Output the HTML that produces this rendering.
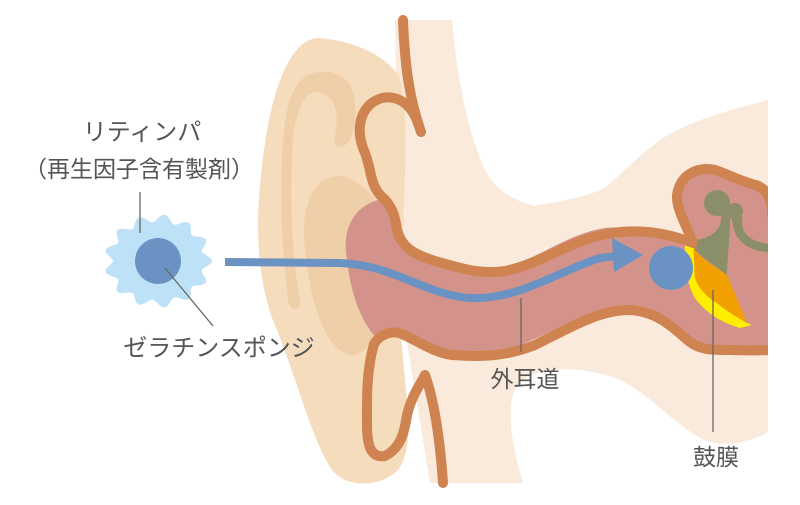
<!DOCTYPE html>
<html><head><meta charset="utf-8"><style>
html,body{margin:0;padding:0;background:#fff;width:800px;height:505px;overflow:hidden}
svg{display:block}
text{font-family:"Liberation Sans","Noto Sans CJK JP",sans-serif;fill:#555;font-size:23px}
</style></head><body>
<svg width="800" height="505" viewBox="0 0 800 505" xmlns="http://www.w3.org/2000/svg">
<defs><clipPath id="c"><rect x="0" y="0" width="768" height="505"/></clipPath></defs>
<g clip-path="url(#c)">
<!-- skin -->
<path d="M395,20 L452,20 C455,60 465,120 477,149 C485,175 495,195 534,206 C570,200 590,195 605,188 C625,170 640,155 660,140 C690,120 730,110 768,100 L768,432 C745,445 720,448 700,438 C670,420 650,395 620,380 C590,368 545,362 519,383 C505,400 510,440 523,483 L430,483 L400,300 Z" fill="#f9eadb"/>
<!-- pinna -->
<path d="M318,38 C352,40 385,55 398,75 C410,95 405,180 400,300 C400,380 420,440 398,470 C383,486 348,490 332,470 C312,440 297,380 277,330 C263,300 255,250 259,200 C264,120 282,40 318,38 Z" fill="#f5dcbd"/>
<path d="M318,72 C350,68 362,95 352,135 C347,150 333,150 334,140 C340,115 337,92 314,92 C298,96 292,130 292,160 C290,200 292,260 300,300 C302,312 290,312 288,300 C282,250 280,200 282,160 C284,110 290,76 318,72 Z" fill="#efcfa8"/>
<path d="M332,177 C350,172 368,190 380,205 L380,310 C376,340 366,356 350,355 C325,350 310,300 305,250 C300,210 312,180 332,177 Z" fill="#efcfa8"/>
<!-- canal fill -->
<path d="M390,198 C360,200 343,222 346,252 C350,290 358,318 378,340 L399,333 C420,338 435,355 470,356 C520,356 560,320 610,308 C650,306 675,330 711,351 L770,351 L770,205 C765,190 760,185 740,180 C725,174 710,165 695,170 C678,178 672,195 680,213 C686,228 690,238 693,243 C670,238 640,225 605,228 C560,235 530,268 480,272 C445,270 415,258 405,240 C398,225 400,210 390,198 Z" fill="#d4938a"/>
<!-- ossicles -->
<path d="M685,238 L693,240 C695,260 694,270 695,277 C700,290 708,298 717,303 C728,312 738,318 747,323 L752,325 L740,328 C720,322 705,312 695,298 C686,283 684,260 685,238 Z" fill="#ffee00"/>
<path d="M693,240 L695,250 C705,262 718,268 727,275 L747,323 C735,316 725,310 717,303 C705,295 697,287 695,277 Z" fill="#f2a000"/>
<circle cx="717" cy="203" r="13" fill="#8a8f6a"/>
<path d="M693,240 C705,240 716,234 720,225 C722,218 722,212 718,208 L730,212 C731,235 727,255 727,275 C718,268 705,260 695,250 Z" fill="#8a8f6a"/>
<circle cx="735" cy="211" r="8" fill="#8a8f6a"/>
<path d="M730,212 C738,208 744,215 742,222 C742,235 752,242 770,244 L770,252 C748,252 735,240 733,225 Z" fill="#8a8f6a"/>
<!-- brown lines -->
<g fill="none" stroke="#cf8350" stroke-width="10" stroke-linecap="round" stroke-linejoin="round">
<path d="M403,20 C405,70 410,100 421,132"/>
<path d="M419,126 C412,104 398,95 382,98 C362,104 355,125 363,148 C372,168 369,182 380,195 C392,205 395,215 397,230 C402,248 414,254 432,260 C460,268 480,275 505,271 C535,265 560,248 590,238 C630,226 665,232 693,243 C688,228 676,210 677,195 C680,175 697,166 715,170 C730,175 742,182 756,185 C770,190 772,205 772,215"/>
<path d="M443,483 C440,440 434,400 425,375 C420,385 412,395 407,415 C404,435 400,448 385,456 C372,458 367,448 367,425 C367,400 366,372 374,344 C380,334 392,330 402,334 C420,342 432,352 452,355 C480,357 505,357 535,345 C575,325 600,310 630,310 C660,312 675,330 690,342 C700,350 712,350 730,350 C750,351 760,350 775,350"/>
</g>
</g>
<!-- arrow -->
<path d="M225,262 L340,263 C395,265 425,295 470,298 C520,300 560,270 600,258 L616,256" fill="none" stroke="#6a93c4" stroke-width="8"/>
<path d="M612,238 L643,255 L614,272 Z" fill="#6a93c4"/>
<circle cx="671" cy="268" r="22" fill="#6a93c4"/>
<!-- sponge -->
<path id="star" fill="#bde2f7" d=""/>
<circle cx="158" cy="261" r="23" fill="#6a93c4"/>
<!-- leaders -->
<g stroke="#666" stroke-width="1.3">
<line x1="140" y1="192" x2="140" y2="233"/>
<line x1="165" y1="268" x2="213" y2="326"/>
<line x1="521" y1="298" x2="521" y2="352"/>
<line x1="713" y1="290" x2="713" y2="432"/>
</g>
<text x="142" y="140" text-anchor="middle" style="font-size:24px">リティンパ</text>
<text x="139" y="177" text-anchor="middle">（再生因子含有製剤）</text>
<text x="219" y="356" text-anchor="middle" style="font-size:24px">ゼラチンスポンジ</text>
<text x="525" y="387" text-anchor="middle">外耳道</text>
<text x="716" y="465" text-anchor="middle">鼓膜</text>
</svg>
<script>
(function(){var cx=158,cy=261,n=13,d='';for(var i=0;i<=360;i++){var a=i*Math.PI/180;var r=45+4*Math.cos(n*a);var x=cx+r*1.1*Math.cos(a),y=cy+r*0.95*Math.sin(a);d+=(i?'L':'M')+x.toFixed(1)+','+y.toFixed(1);}document.getElementById('star').setAttribute('d',d+'Z');})();
</script>
</body></html>
